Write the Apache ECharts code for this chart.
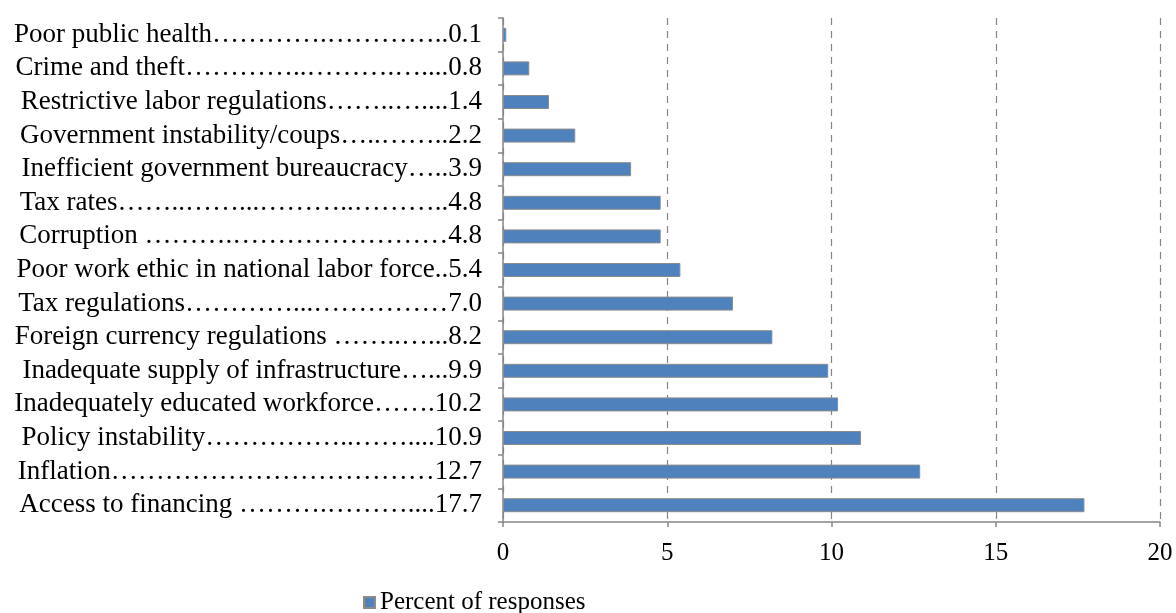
<!DOCTYPE html>
<html>
<head>
<meta charset="utf-8">
<script src="https://cdn.jsdelivr.net/npm/echarts@6/dist/echarts.min.js"></script>
<style>
  html, body { margin: 0; padding: 0; background: #fff; }
  #chart { width: 1176px; height: 613px; }
</style>
</head>
<body>
<div id="chart"></div>
<script>
// categories, top to bottom, with their leader dots as printed
const categories = [
  'Poor public health………….…………..0.1',
  'Crime and theft…………..……….…....0.8',
  'Restrictive labor regulations……..…....1.4',
  'Government instability/coups…..……..2.2',
  'Inefficient government bureaucracy…..3.9',
  'Tax rates……..……...………..………..4.8',
  'Corruption ……….……………………4.8',
  'Poor work ethic in national labor force..5.4',
  'Tax regulations…………...……………7.0',
  'Foreign currency regulations ……..…...8.2',
  'Inadequate supply of infrastructure…...9.9',
  'Inadequately educated workforce…….10.2',
  'Policy instability……………..……....10.9',
  'Inflation………………………………12.7',
  'Access to financing ……….………....17.7'
]
const values = [0.1, 0.8, 1.4, 2.2, 3.9, 4.8, 4.8, 5.4, 7.0, 8.2, 9.9, 10.2, 10.9, 12.7, 17.7]
const seriesName = 'Percent of responses'

const chart = echarts.init(document.getElementById('chart'))
const axisGray = '#868686'
const serif = '"Liberation Serif", "Times New Roman", serif'

const option = {
  animation: false,
  grid: {
    left: 503,
    right: 16,
    top: 18,
    bottom: 91,
    outerBoundsMode: 'none'
  },
  legend: {
    left: 358,
    top: 585,
    itemWidth: 11,
    itemHeight: 11,
    itemGap: 6,
    icon: 'rect',
    textStyle: {
      fontFamily: serif,
      fontSize: 25,
      color: '#000'
    },
    data: [seriesName]
  },
  xAxis: {
    type: 'value',
    min: 0,
    max: 20,
    interval: 5,
    axisLine: {
      show: true,
      lineStyle: { color: axisGray, width: 1.5 }
    },
    axisTick: {
      show: true,
      length: 5,
      lineStyle: { color: axisGray, width: 1.5 }
    },
    axisLabel: {
      margin: 19,
      fontFamily: serif,
      fontSize: 25,
      color: '#000'
    },
    splitLine: {
      show: true,
      lineStyle: {
        color: axisGray,
        type: [7, 6],
        width: 1.2
      }
    }
  },
  yAxis: {
    type: 'category',
    inverse: true,
    data: categories,
    axisLine: {
      lineStyle: { color: axisGray, width: 1.5 }
    },
    axisTick: {
      show: true,
      length: 5,
      lineStyle: { color: axisGray, width: 1.5 }
    },
    axisLabel: {
      interval: 0,
      margin: 21,
      fontFamily: serif,
      fontSize: 27,
      color: '#000'
    }
  },
  series: [
    {
      name: seriesName,
      type: 'bar',
      data: values,
      barWidth: 14,
      itemStyle: {
        color: '#4F81BD',
        borderColor: '#8C8C8C',
        borderWidth: 1
      }
    }
  ]
}
chart.setOption(option)
</script>
</body>
</html>
